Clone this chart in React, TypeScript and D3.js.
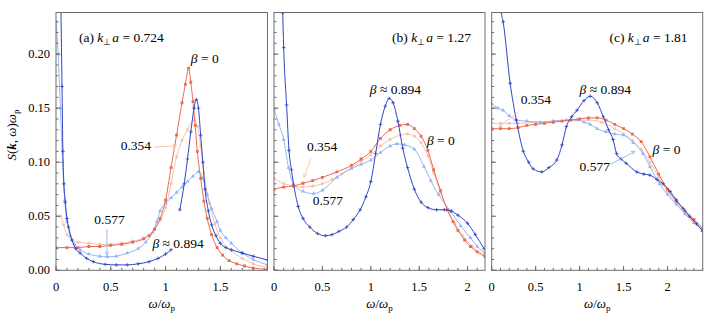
import * as d3 from "d3";

// S(k, w) w_p, [w/wp, value]
const aBeta0 = [[0,0.021],[0.1,0.021],[0.2,0.021],[0.3,0.022],[0.4,0.022],[0.5,0.023],[0.6,0.024],[0.7,0.026],[0.8,0.029],[0.85,0.032],[0.9,0.038],[0.95,0.048],[1.0,0.065],[1.05,0.095],[1.1,0.125],[1.15,0.155],[1.18,0.172],[1.21,0.187],[1.23,0.174],[1.25,0.156],[1.27,0.134],[1.29,0.11],[1.32,0.085],[1.35,0.064],[1.38,0.048],[1.42,0.033],[1.47,0.021],[1.52,0.014],[1.58,0.009],[1.65,0.006],[1.72,0.004],[1.8,0.002],[1.93,0.001]];
const aBeta354 = [[0,0.05],[0.04,0.05],[0.07,0.042],[0.1,0.033],[0.15,0.028],[0.2,0.026],[0.3,0.025],[0.4,0.024],[0.5,0.024],[0.6,0.025],[0.7,0.027],[0.8,0.03],[0.9,0.038],[0.95,0.046],[1.0,0.058],[1.05,0.08],[1.1,0.105],[1.15,0.12],[1.2,0.13],[1.26,0.139],[1.29,0.133],[1.32,0.115],[1.35,0.09],[1.4,0.062],[1.45,0.043],[1.5,0.03],[1.6,0.018],[1.7,0.011],[1.8,0.006],[1.93,0.003]];
const aBeta577 = [[0,0.23],[0.02,0.2],[0.04,0.15],[0.06,0.1],[0.08,0.065],[0.1,0.045],[0.13,0.032],[0.17,0.024],[0.22,0.019],[0.3,0.015],[0.4,0.013],[0.47,0.0125],[0.55,0.013],[0.65,0.016],[0.75,0.02],[0.82,0.026],[0.88,0.035],[0.92,0.045],[0.95,0.055],[1.0,0.062],[1.05,0.067],[1.1,0.072],[1.15,0.077],[1.2,0.082],[1.25,0.087],[1.3,0.091],[1.34,0.085],[1.38,0.07],[1.42,0.057],[1.47,0.045],[1.5,0.037],[1.55,0.03],[1.6,0.025],[1.7,0.016],[1.8,0.01],[1.93,0.005]];
const aBeta894 = [[0.04,0.27],[0.045,0.24],[0.055,0.17],[0.063,0.11],[0.072,0.08],[0.085,0.063],[0.1,0.048],[0.115,0.04],[0.145,0.028],[0.18,0.02],[0.22,0.016],[0.28,0.011],[0.34,0.008],[0.45,0.0055],[0.55,0.005],[0.65,0.005],[0.75,0.006],[0.85,0.008],[0.93,0.011],[1.0,0.015],[1.05,0.019],[1.09,NaN],[1.13,0.056],[1.17,0.08],[1.2,0.103],[1.23,0.128],[1.26,0.15],[1.28,0.158],[1.3,0.15],[1.32,0.125],[1.34,0.1],[1.36,0.075],[1.39,0.055],[1.42,0.042],[1.46,0.032],[1.5,0.025],[1.55,0.021],[1.6,0.019],[1.7,0.016],[1.8,0.013],[1.93,0.0095]];

const bBeta0 = [[0,0.075],[0.1,0.077],[0.2,0.078],[0.3,0.0805],[0.4,0.083],[0.5,0.086],[0.65,0.091],[0.8,0.097],[0.9,0.103],[1.0,0.11],[1.1,0.122],[1.2,0.13],[1.3,0.134],[1.38,0.135],[1.45,0.131],[1.52,0.124],[1.59,0.111],[1.65,0.093],[1.72,0.074],[1.79,0.056],[1.85,0.045],[1.9,0.037],[1.97,0.028],[2.03,0.022],[2.1,0.017],[2.18,0.0126]];
const bBeta354 = [[0,0.085],[0.1,0.08],[0.2,0.078],[0.3,0.077],[0.4,0.078],[0.5,0.08],[0.6,0.084],[0.7,0.089],[0.8,0.095],[0.9,0.101],[1.0,0.107],[1.1,0.115],[1.2,0.121],[1.3,0.125],[1.38,0.126],[1.45,0.124],[1.52,0.118],[1.59,0.106],[1.65,0.09],[1.72,0.072],[1.8,0.055],[1.87,0.043],[1.95,0.032],[2.05,0.022],[2.18,0.014]];
const bBeta577 = [[0,0.149],[0.05,0.135],[0.1,0.121],[0.15,0.095],[0.2,0.08],[0.3,0.073],[0.41,0.071],[0.5,0.074],[0.65,0.086],[0.8,0.094],[0.9,0.098],[1.0,0.102],[1.1,0.109],[1.2,0.115],[1.27,0.117],[1.35,0.116],[1.45,0.112],[1.55,0.096],[1.62,0.083],[1.7,0.07],[1.83,0.054],[1.93,0.041],[2.03,0.03],[2.1,0.022],[2.18,0.016]];
const bBeta894 = [[0.08,0.27],[0.09,0.238],[0.1,0.206],[0.13,0.153],[0.155,0.111],[0.18,0.093],[0.25,0.059],[0.3,0.048],[0.37,0.04],[0.45,0.034],[0.53,0.032],[0.6,0.033],[0.67,0.036],[0.75,0.04],[0.82,0.047],[0.89,0.056],[0.95,0.068],[1.0,0.082],[1.05,0.108],[1.1,0.135],[1.15,0.152],[1.19,0.159],[1.23,0.155],[1.28,0.138],[1.33,0.113],[1.38,0.095],[1.45,0.075],[1.52,0.063],[1.59,0.058],[1.68,0.056],[1.76,0.056],[1.83,0.055],[1.9,0.051],[2.0,0.0435],[2.08,0.033],[2.17,0.02]];

const cBeta0 = [[0,0.131],[0.1,0.131],[0.2,0.131],[0.3,0.132],[0.4,0.134],[0.5,0.135],[0.6,0.136],[0.7,0.137],[0.8,0.138],[0.9,0.139],[1.0,0.14],[1.1,0.141],[1.2,0.141],[1.3,0.139],[1.4,0.135],[1.5,0.131],[1.6,0.126],[1.7,0.119],[1.8,0.105],[1.9,0.089],[2.0,0.075],[2.1,0.064],[2.2,0.055],[2.3,0.047],[2.4,0.039]];
const cBeta354 = [[0,0.136],[0.1,0.136],[0.2,0.136],[0.3,0.136],[0.5,0.137],[0.7,0.138],[0.9,0.139],[1.1,0.139],[1.25,0.137],[1.4,0.131],[1.5,0.126],[1.6,0.12],[1.7,0.112],[1.8,0.1],[1.9,0.086],[2.0,0.073],[2.1,0.062],[2.2,0.053],[2.3,0.045],[2.4,0.038]];
const cBeta577 = [[0,0.154],[0.07,0.15],[0.13,0.148],[0.2,0.143],[0.28,0.139],[0.4,0.138],[0.55,0.137],[0.7,0.138],[0.85,0.139],[0.97,0.139],[1.05,0.137],[1.12,0.135],[1.2,0.131],[1.3,0.128],[1.4,0.126],[1.5,0.125],[1.61,0.118],[1.72,0.108],[1.8,0.096],[1.91,0.08],[2.0,0.07],[2.1,0.061],[2.2,0.052],[2.3,0.044],[2.4,0.037]];
const cBeta894 = [[0.1,0.27],[0.11,0.239],[0.13,0.23],[0.21,0.173],[0.28,0.139],[0.36,0.11],[0.42,0.1],[0.47,0.094],[0.57,0.091],[0.65,0.095],[0.74,0.102],[0.8,0.116],[0.85,0.133],[0.91,0.142],[0.97,0.148],[1.05,0.157],[1.12,0.161],[1.2,0.155],[1.27,0.142],[1.33,0.13],[1.38,0.121],[1.42,0.108],[1.47,0.103],[1.53,0.099],[1.65,0.091],[1.73,0.089],[1.8,0.088],[1.88,0.084],[1.95,0.08],[2.03,0.073],[2.1,0.065],[2.18,0.057],[2.25,0.05],[2.33,0.043],[2.4,0.036]];

const yTicks = [0, 0.05, 0.1, 0.15, 0.2];
const yTickLabels = ["0.00", "0.05", "0.10", "0.15", "0.20"];
const xTickLabels = ["0", "0.5", "1", "1.5", "2"];
const panelTags = ["a", "b", "c"];
const panelKa = ["0.724", "1.27", "1.81"];
const panelXMax = [1.93, 2.18, 2.4];

// text annotations: [w, S] of the text start and of the arrow ends
const tagPos = [[0.21, 0.211], [1.22, 0.211], [1.34, 0.211]];
const beta0Pos = [[1.23, 0.192], [1.58, 0.116], [1.83, 0.108]];
const beta894Pos = [[0.88, 0.021], [0.99, 0.163], [1.0, 0.163]];
const l354Pos = [[0.59, 0.111], [0.34, 0.110], [0.33, 0.154]];
const l354Arrow = [[[0.89, 0.114], [1.1, 0.115]], [[0.38, 0.103], [0.31, 0.086]], [[0.3, 0.146], [0.08, 0.133]]];
const l577Pos = [[0.35, 0.043], [0.40, 0.060], [1.0, 0.092]];
const l577Arrow = [[[0.465, 0.038], [0.465, 0.014]], null, [[1.35, 0.098], [1.63, 0.110]]];

const seriesData = [
  [aBeta354, aBeta577, aBeta0, aBeta894],
  [bBeta354, bBeta577, bBeta0, bBeta894],
  [cBeta354, cBeta577, cBeta0, cBeta894],
];
const seriesColor = ["#f5c1aa", "#93b5f5", "#ea6a54", "#2f44c4"];
const seriesSymbol = [d3.symbolCircle, d3.symbolTriangle, d3.symbolSquare, d3.symbolPlus];
const seriesSymbolSize = [7, 7, 8, 5];

const panelLeft = [56, 274, 491.7];
const panelRight = [267.5, 485, 702.7];
const top = 12.5;
const bottom = 270.3;
const yMax = 0.2385;

function KLabel({tag, ka}: {tag: string, ka: string}) {
  return (
    <>
      <tspan>{`(${tag}) `}</tspan>
      <tspan fontStyle="italic">k</tspan>
      <tspan fontSize={9} dy={3}>⊥</tspan>
      <tspan fontStyle="italic" dy={-3} dx={1}>a</tspan>
      <tspan>{" = " + ka}</tspan>
    </>
  );
}

function Arrow({x1, y1, x2, y2, color}: any) {
  const ang = Math.atan2(y2 - y1, x2 - x1);
  const h = 4;
  const p1 = [x2 - h * Math.cos(ang - 0.45), y2 - h * Math.sin(ang - 0.45)];
  const p2 = [x2 - h * Math.cos(ang + 0.45), y2 - h * Math.sin(ang + 0.45)];
  return (
    <g stroke={color} strokeWidth={0.9} fill="none">
      <line x1={x1} y1={y1} x2={x2} y2={y2}/>
      <polyline points={`${p1.join(",")} ${x2},${y2} ${p2.join(",")}`}/>
    </g>
  );
}

function Panel({i}: {i: number}) {
  const x = d3.scaleLinear().domain([0, panelXMax[i]]).range([panelLeft[i], panelRight[i]]);
  const y = d3.scaleLinear().domain([0, yMax]).range([bottom, top]);
  const line = d3.line<number[]>()
    .defined(d => !isNaN(d[1]))
    .x(d => x(d[0]))
    .y(d => y(d[1]))
    .curve(d3.curveMonotoneX);

  const xMinor = d3.range(0, panelXMax[i] + 1e-9, 0.1);
  const xMajor = d3.range(0, panelXMax[i] + 1e-9, 0.5);
  const yMinor = d3.range(0, yMax, 0.01);
  const clipId = `clip-${i}`;
  const lbl = (p: number[]) => [x(p[0]), y(p[1])];

  return (
    <g>
      <defs>
        <clipPath id={clipId}>
          <rect x={x(0)} y={top} width={x(panelXMax[i]) - x(0)} height={bottom - top}/>
        </clipPath>
      </defs>
      <g clipPath={`url(#${clipId})`}>
        {seriesData[i].map((s, k) => (
          <g key={k}>
            <path d={line(s) ?? ""} fill="none" stroke={seriesColor[k]} strokeWidth={1}/>
            {s.filter(d => !isNaN(d[1])).map((d, j) => (
              <path key={j}
                    transform={`translate(${x(d[0])},${y(d[1])})`}
                    d={d3.symbol().type(seriesSymbol[k]).size(seriesSymbolSize[k])() ?? ""}
                    fill={k === 3 ? "none" : seriesColor[k]}
                    stroke={k === 3 ? seriesColor[k] : "none"}
                    strokeWidth={0.8}/>
            ))}
          </g>
        ))}
      </g>

      {/* frame and ticks */}
      <rect x={x(0)} y={top} width={x(panelXMax[i]) - x(0)} height={bottom - top}
            fill="none" stroke="#6e6e6e" strokeWidth={1}/>
      {xMinor.map((t, k) => (
        <line key={"xm" + k} x1={x(t)} x2={x(t)} y1={bottom} y2={bottom - 2.5} stroke="#6e6e6e"/>
      ))}
      {xMajor.map((t, k) => (
        <g key={"xM" + k}>
          <line x1={x(t)} x2={x(t)} y1={bottom} y2={bottom - 4.5} stroke="#6e6e6e"/>
          <text x={x(t)} y={bottom + 21} textAnchor="middle" fontSize={12.5}>
            {xTickLabels[k]}
          </text>
        </g>
      ))}
      {yMinor.map((t, k) => (
        <line key={"ym" + k} x1={x(0)} x2={x(0) + 2.5} y1={y(t)} y2={y(t)} stroke="#6e6e6e"/>
      ))}
      {yTicks.map((t, k) => (
        <g key={"yM" + k}>
          <line x1={x(0)} x2={x(0) + 4.5} y1={y(t)} y2={y(t)} stroke="#6e6e6e"/>
          {i === 0 && (
            <text x={x(0) - 6} y={y(t) + 4} textAnchor="end" fontSize={12.5}>
              {yTickLabels[k]}
            </text>
          )}
        </g>
      ))}

      {/* x label */}
      <text x={(x(0) + x(panelXMax[i])) / 2} y={308} textAnchor="middle" fontSize={13}>
        <tspan fontStyle="italic">ω</tspan>
        <tspan>/</tspan>
        <tspan fontStyle="italic">ω</tspan>
        <tspan fontSize={9} dy={3}>p</tspan>
      </text>

      {/* annotations */}
      <text x={lbl(tagPos[i])[0]} y={lbl(tagPos[i])[1]} fontSize={13.5}>
        <KLabel tag={panelTags[i]} ka={panelKa[i]}/>
      </text>
      <text x={lbl(beta0Pos[i])[0]} y={lbl(beta0Pos[i])[1]} fontSize={13.5}>
        <tspan fontStyle="italic">β</tspan> = 0
      </text>
      <text x={lbl(beta894Pos[i])[0]} y={lbl(beta894Pos[i])[1]} fontSize={13.5}>
        <tspan fontStyle="italic">β</tspan> ≈ 0.894
      </text>
      <text x={lbl(l354Pos[i])[0]} y={lbl(l354Pos[i])[1]} fontSize={13.5}>0.354</text>
      <Arrow x1={x(l354Arrow[i][0][0])} y1={y(l354Arrow[i][0][1])}
             x2={x(l354Arrow[i][1][0])} y2={y(l354Arrow[i][1][1])} color="#f5c1aa"/>
      <text x={lbl(l577Pos[i])[0]} y={lbl(l577Pos[i])[1]} fontSize={13.5}>0.577</text>
      {l577Arrow[i] && (
        <Arrow x1={x(l577Arrow[i]![0][0])} y1={y(l577Arrow[i]![0][1])}
               x2={x(l577Arrow[i]![1][0])} y2={y(l577Arrow[i]![1][1])} color="#93b5f5"/>
      )}
    </g>
  );
}

export default function App() {
  return (
    <svg width={709} height={315}
         style={{position: "absolute", left: 0, top: 0, background: "#fff", fontFamily: "Liberation Serif"}}>
      <rect width={709} height={315} fill="#fff"/>
      {panelTags.map((_, i) => <Panel key={i} i={i}/>)}
      <text transform="translate(16,135) rotate(-90)" textAnchor="middle" fontSize={13}>
        <tspan fontStyle="italic">S</tspan>
        <tspan>(</tspan>
        <tspan fontWeight="bold" fontStyle="italic">k</tspan>
        <tspan>, </tspan>
        <tspan fontStyle="italic">ω</tspan>
        <tspan>)</tspan>
        <tspan fontStyle="italic">ω</tspan>
        <tspan fontSize={9} dy={3}>p</tspan>
      </text>
    </svg>
  );
}
